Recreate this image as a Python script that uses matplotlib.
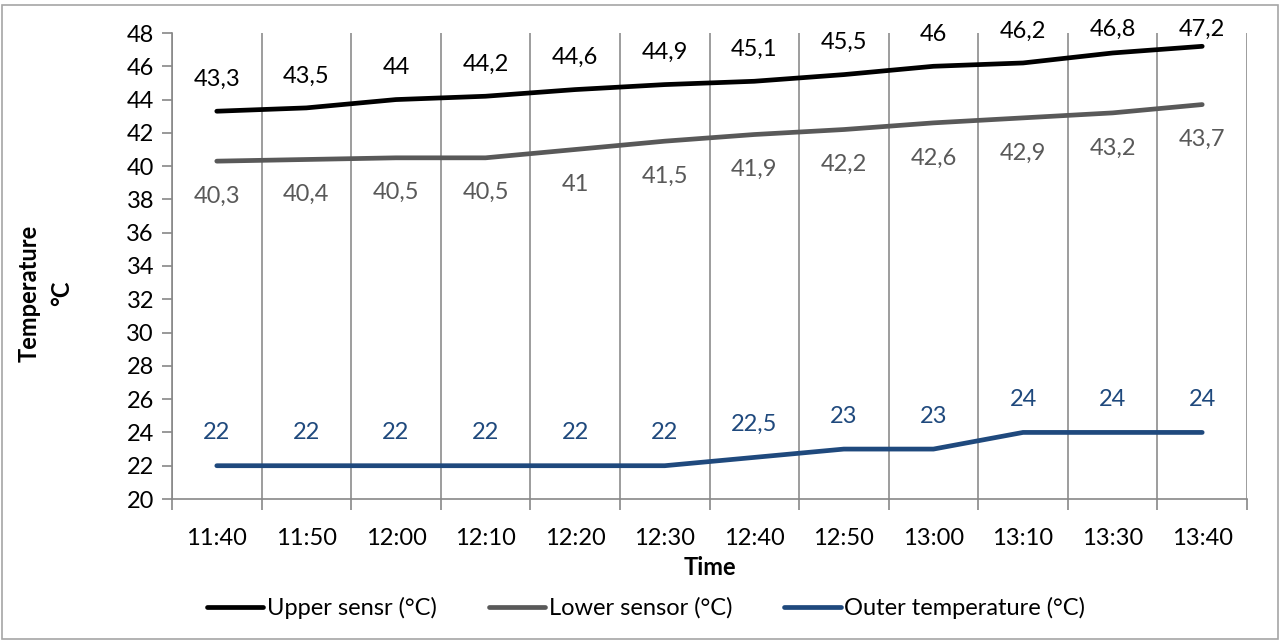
import numpy as np
import matplotlib
matplotlib.use("Agg")
from matplotlib import pyplot as plt
from matplotlib.patches import Rectangle

plt.rcParams['font.family'] = ['Lato', 'DejaVu Sans']

times = ["11:40", "11:50", "12:00", "12:10", "12:20", "12:30",
         "12:40", "12:50", "13:00", "13:10", "13:30", "13:40"]
upper = [43.3, 43.5, 44, 44.2, 44.6, 44.9, 45.1, 45.5, 46, 46.2, 46.8, 47.2]
lower = [40.3, 40.4, 40.5, 40.5, 41, 41.5, 41.9, 42.2, 42.6, 42.9, 43.2, 43.7]
outer = [22, 22, 22, 22, 22, 22, 22.5, 23, 23, 24, 24, 24]

c_up = "#000000"
c_low = "#595959"
c_out = "#1F497D"
FS = 17

fig = plt.figure(figsize=(12.81, 6.42), dpi=100)
ax = fig.add_axes([172 / 1281, 1 - 499 / 642, (1247 - 172) / 1281, (499 - 33) / 642])

# chart border
fig.patches.append(Rectangle((2 / 1281, 3 / 642), 1276 / 1281, 634 / 642,
                             transform=fig.transFigure, fill=False,
                             edgecolor="#A6A6A6", linewidth=1.2))

X = np.arange(len(times))
ax.plot(X, upper, color=c_up, lw=3.4, solid_capstyle="round", label="Upper sensr (°C)")
ax.plot(X, lower, color=c_low, lw=3.4, solid_capstyle="round", label="Lower sensor (°C)")
ax.plot(X, outer, color=c_out, lw=3.4, solid_capstyle="round", label="Outer temperature (°C)")

def fmt(v):
    return ("%g" % v).replace(".", ",")

# data labels: ~32px above / ~35px below, kept inside the chart top
px = 28 / 466
for x, v in zip(X, upper):
    ax.text(x, min(v + 32 * px, 48.2), fmt(v), ha="center", va="center",
            fontsize=FS, color=c_up, clip_on=False)
for x, v in zip(X, lower):
    ax.text(x, v - 35 * px, fmt(v), ha="center", va="center",
            fontsize=FS, color=c_low)
for x, v in zip(X, outer):
    ax.text(x, v + 33 * px, fmt(v), ha="center", va="center",
            fontsize=FS, color=c_out)

ax.set_xlim(-0.5, len(times) - 0.5)
ax.set_ylim(20, 48)
ax.set_yticks(np.arange(20, 49, 2))
ax.set_xticks(X)
ax.set_xticklabels(times)
ax.set_xticks(np.arange(-0.5, len(times), 1), minor=True)
ax.tick_params(axis="x", which="major", length=0, labelsize=FS, pad=21)
ax.tick_params(axis="x", which="minor", length=8, color="#888888", width=1.2)
ax.tick_params(axis="y", length=7, color="#888888", width=1.2, labelsize=FS, pad=6)
ax.grid(True, axis="x", which="minor", color="#8C8C8C", lw=1.2)
ax.grid(False, axis="x", which="major")

for side in ["top", "right"]:
    ax.spines[side].set_visible(False)
for side in ["left", "bottom"]:
    ax.spines[side].set_color("#888888")
    ax.spines[side].set_linewidth(1.2)

ax.set_xlabel("Time", fontsize=FS, fontweight="bold", labelpad=5)
fig.text(29 / 1281, 1 - 293 / 642, "Temperature", rotation=90, ha="center",
         va="center", fontsize=FS, fontweight="bold")
fig.text(62 / 1281, 1 - 293 / 642, "°C", rotation=90, ha="center",
         va="center", fontsize=FS, fontweight="bold")

fig.legend(loc="center", bbox_to_anchor=(646 / 1281, 1 - 608 / 642), ncol=3,
           frameon=False, fontsize=FS, handlelength=2.4, handletextpad=0.15,
           columnspacing=2.2)

fig.savefig("out.png", dpi=100)
